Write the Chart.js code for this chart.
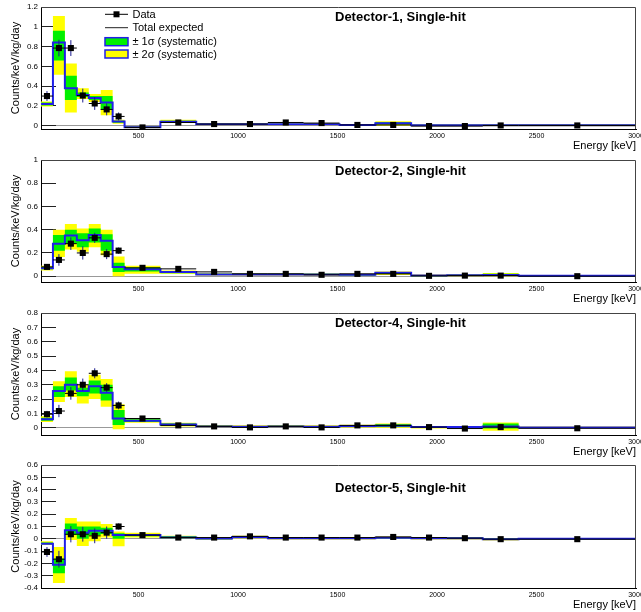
<!DOCTYPE html>
<html><head><meta charset="utf-8">
<script src="https://cdn.jsdelivr.net/npm/chart.js@4.4.0/dist/chart.umd.min.js"></script>
<style>
html,body{margin:0;padding:0;background:#fff;}
#wrap{position:relative;width:641px;height:612px;overflow:hidden;}
.pad{position:absolute;left:0;width:641px;height:153px;}
canvas{display:block;}
</style></head><body>
<div id="wrap">
<div class="pad" style="top:0"><canvas id="c1" width="641" height="153"></canvas></div>
<div class="pad" style="top:153px"><canvas id="c2" width="641" height="153"></canvas></div>
<div class="pad" style="top:306px"><canvas id="c3" width="641" height="153"></canvas></div>
<div class="pad" style="top:459px"><canvas id="c4" width="641" height="153"></canvas></div>
</div>
<script>
// ---- data ----
const binEdges = [10,70,130,190,250,310,370,430,610,790,970,1150,1330,1510,1690,1870,2050,2230,2410,3000];
const xTicks = [500,1000,1500,2000,2500,3000];

const det1Title = 'Detector-1, Single-hit';
const det1YTicks = [0,0.2,0.4,0.6,0.8,1,1.2];
const det1Expected = [0.22,0.84,0.38,0.31,0.28,0.235,0.043,-0.015,0.04,0.015,0.015,0.015,0.015,0.008,0.025,0.005,0.005,0.005,0.005];
const det1Sig1Lo = [0.205,0.66,0.26,0.29,0.26,0.16,0.03,-0.02,0.035,0.01,0.01,0.01,0.01,0.003,0.015,0.0,0.0,0.0,0.0];
const det1Sig1Hi = [0.235,0.96,0.505,0.335,0.30,0.30,0.05,-0.01,0.05,0.02,0.02,0.02,0.02,0.013,0.035,0.01,0.01,0.01,0.01];
const det1Sig2Lo = [0.195,0.515,0.135,0.27,0.24,0.105,0.02,-0.025,0.03,0.005,0.005,0.005,0.005,-0.002,0.0,-0.005,-0.005,-0.005,-0.005];
const det1Sig2Hi = [0.245,1.11,0.63,0.38,0.32,0.36,0.06,-0.005,0.06,0.025,0.025,0.025,0.025,0.018,0.045,0.015,0.015,0.015,0.015];
const det1Data = [0.30,0.785,0.785,0.305,0.225,0.165,0.094,-0.017,0.033,0.017,0.017,0.033,0.027,0.008,0.008,-0.003,-0.003,0.003,0.003];
const det1Err = [0.05,0.084,0.08,0.07,0.065,0.06,0.04,0.008,0.008,0.005,0.005,0.005,0.005,0.004,0.004,0.003,0.003,0.003,0.002];

const det2Title = 'Detector-2, Single-hit';
const det2YTicks = [0,0.2,0.4,0.6,0.8,1];
const det2Expected = [0.069,0.28,0.35,0.31,0.355,0.305,0.08,0.06,0.035,0.015,0.015,0.015,0.015,0.012,0.03,0.005,0.008,0.01,0.003];
const det2Sig1Lo = [0.06,0.22,0.28,0.25,0.29,0.22,0.035,0.04,0.025,0.01,0.01,0.01,0.01,0.007,0.02,0.0,0.003,0.005,0.0];
const det2Sig1Hi = [0.08,0.355,0.40,0.37,0.41,0.36,0.115,0.075,0.045,0.02,0.02,0.02,0.02,0.017,0.035,0.01,0.013,0.02,0.006];
const det2Sig2Lo = [0.05,0.165,0.23,0.21,0.25,0.18,0.0,0.02,0.02,0.005,0.005,0.005,0.005,0.002,0.01,-0.005,-0.002,0.0,-0.003];
const det2Sig2Hi = [0.09,0.40,0.45,0.41,0.45,0.40,0.17,0.09,0.05,0.025,0.025,0.025,0.025,0.022,0.04,0.015,0.018,0.027,0.009];
const det2Data = [0.08,0.14,0.28,0.20,0.33,0.19,0.22,0.072,0.063,0.037,0.02,0.02,0.012,0.02,0.02,0.003,0.005,0.005,0.0];
const det2Err = [0.022,0.05,0.054,0.057,0.043,0.043,0.027,0.01,0.01,0.006,0.005,0.005,0.005,0.005,0.005,0.004,0.004,0.004,0.002];

const det4Title = 'Detector-4, Single-hit';
const det4YTicks = [0,0.1,0.2,0.3,0.4,0.5,0.6,0.7,0.8];
const det4Expected = [0.06,0.256,0.30,0.256,0.29,0.245,0.065,0.05,0.023,0.01,0.008,0.01,0.008,0.012,0.015,0.005,0.005,0.01,0.003];
const det4Sig1Lo = [0.05,0.215,0.26,0.22,0.24,0.19,0.02,0.04,0.015,0.005,0.003,0.005,0.003,0.007,0.005,0.0,0.0,-0.005,0.0];
const det4Sig1Hi = [0.07,0.29,0.35,0.28,0.33,0.30,0.125,0.06,0.03,0.015,0.013,0.015,0.013,0.017,0.025,0.01,0.01,0.03,0.006];
const det4Sig2Lo = [0.04,0.18,0.215,0.17,0.20,0.146,-0.01,0.035,0.01,0.0,-0.002,0.0,-0.002,0.002,0.0,-0.005,-0.003,-0.02,-0.003];
const det4Sig2Hi = [0.08,0.325,0.395,0.30,0.37,0.34,0.165,0.065,0.035,0.02,0.018,0.02,0.018,0.022,0.03,0.01,0.013,0.037,0.009];
const det4Data = [0.095,0.117,0.24,0.30,0.38,0.28,0.156,0.065,0.017,0.01,0.003,0.01,0.003,0.017,0.017,0.005,-0.005,0.005,-0.003];
const det4Err = [0.023,0.043,0.044,0.043,0.035,0.031,0.027,0.008,0.006,0.005,0.005,0.005,0.005,0.005,0.005,0.004,0.004,0.004,0.002];

const det5Title = 'Detector-5, Single-hit';
const det5YTicks = [-0.4,-0.3,-0.2,-0.1,0,0.1,0.2,0.3,0.4,0.5,0.6];
const det5Expected = [-0.04,-0.21,0.07,0.05,0.065,0.066,0.03,0.03,0.01,0.002,0.015,0.005,0.005,0.005,0.008,0.005,0.005,-0.003,0.0];
const det5Sig1Lo = [-0.045,-0.28,0.03,0.0,0.03,0.04,0.0,0.02,0.005,-0.003,0.01,0.0,0.0,0.0,0.003,0.0,0.0,-0.008,-0.003];
const det5Sig1Hi = [-0.03,-0.16,0.125,0.10,0.10,0.09,0.045,0.04,0.02,0.007,0.02,0.01,0.01,0.01,0.013,0.01,0.01,0.002,0.003];
const det5Sig2Lo = [-0.05,-0.36,-0.01,-0.058,-0.02,0.01,-0.06,0.01,0.0,-0.008,0.005,-0.005,-0.005,-0.005,-0.002,-0.005,-0.005,-0.013,-0.006];
const det5Sig2Hi = [-0.02,-0.066,0.17,0.14,0.14,0.12,0.06,0.05,0.025,0.012,0.025,0.015,0.015,0.015,0.018,0.015,0.015,0.007,0.006];
const det5Data = [-0.107,-0.166,0.037,0.037,0.024,0.05,0.10,0.03,0.01,0.01,0.02,0.01,0.01,0.01,0.015,0.01,0.005,-0.003,-0.003];
const det5Err = [0.04,0.068,0.066,0.06,0.06,0.05,0.025,0.01,0.008,0.006,0.005,0.005,0.005,0.005,0.005,0.004,0.004,0.004,0.002];

const legendLabels = ['Data','Total expected','\u00b1 1\u03c3 (systematic)','\u00b1 2\u03c3 (systematic)'];

// ---- helpers ----
const FONT = "'Liberation Sans', Arial, Helvetica, sans-serif";
Chart.defaults.font.family = FONT;
const GREEN = '#00f000', YELLOW = '#ffff00', BLUE = '#1f1fe8';

function stepPts(v){ return binEdges.map((e,i)=>({x:e, y:v[Math.min(i, v.length-1)]})); }
function centerPts(v){ return v.map((y,i)=>({x:(binEdges[i]+binEdges[i+1])/2, y})); }
function xErrPts(v){ const p=[]; v.forEach((y,i)=>{ p.push({x:binEdges[i],y},{x:binEdges[i+1],y},{x:binEdges[i+1],y:null}); }); return p; }
function yErrPts(v,e){ const p=[]; v.forEach((y,i)=>{ const c=(binEdges[i]+binEdges[i+1])/2; p.push({x:c,y:y-e[i]},{x:c,y:y+e[i]},{x:c,y:null}); }); return p; }

const decor = {
  id:'decor',
  afterDraw(chart, args, o){
    const {ctx, chartArea:a} = chart;
    ctx.save();
    ctx.strokeStyle='#444'; ctx.lineWidth=1;
    ctx.beginPath();
    ctx.moveTo(a.left, a.top+0.5); ctx.lineTo(a.right-0.5, a.top+0.5); ctx.lineTo(a.right-0.5, a.bottom);
    ctx.stroke();
    ctx.fillStyle='#000';
    ctx.font = 'bold 13px '+FONT;
    ctx.textAlign='left'; ctx.textBaseline='middle';
    ctx.fillText(o.title, 335, o.titleY);
    if (o.legend){
      const x0=105, x1=128, tx=132.5, rows=[14.3,27.7,41.7,54];
      ctx.font = '11px '+FONT;
      ctx.strokeStyle='#000'; ctx.lineWidth=1;
      ctx.beginPath(); ctx.moveTo(x0, rows[0]); ctx.lineTo(x1, rows[0]); ctx.stroke();
      ctx.fillStyle='#000'; ctx.fillRect(116.5-3, rows[0]-3, 6, 6);
      ctx.strokeStyle='#222'; ctx.lineWidth=1;
      ctx.beginPath(); ctx.moveTo(x0, rows[1]); ctx.lineTo(x1, rows[1]); ctx.stroke();
      [[GREEN,rows[2]],[YELLOW,rows[3]]].forEach(([c,y])=>{
        ctx.fillStyle=c; ctx.fillRect(x0, y-4, x1-x0, 8);
        ctx.strokeStyle=BLUE; ctx.lineWidth=1.5; ctx.strokeRect(x0, y-4, x1-x0, 8);
      });
      ctx.fillStyle='#000';
      legendLabels.forEach((t,i)=>ctx.fillText(t, tx, rows[i]+0.5));
    }
    ctx.restore();
  }
};

function makePanel(id, p){
  const hidden = {borderColor:'rgba(0,0,0,0)', borderWidth:0, pointRadius:0, stepped:true};
  const datasets = [
    {label:'Data', data:centerPts(p.data), showLine:false, pointStyle:'rect', pointRadius:4.3, pointBackgroundColor:'#000', pointBorderColor:'#000', pointBorderWidth:0},
    {label:'xerr', data:xErrPts(p.data), borderColor:'#000', borderWidth:1, pointRadius:0, spanGaps:false},
    {label:'yerr', data:yErrPts(p.data,p.err), borderColor:'#1c1c90', borderWidth:1, pointRadius:0, spanGaps:false},
    {label:'Total expected', data:stepPts(p.expected), stepped:true, borderColor:BLUE, borderWidth:2, pointRadius:0},
    Object.assign({label:'1s hi', data:stepPts(p.s1hi), fill:'+1', backgroundColor:GREEN}, hidden),
    Object.assign({label:'1s lo', data:stepPts(p.s1lo), fill:false}, hidden),
    Object.assign({label:'2s hi', data:stepPts(p.s2hi), fill:'+1', backgroundColor:YELLOW}, hidden),
    Object.assign({label:'2s lo', data:stepPts(p.s2lo), fill:false}, hidden)
  ];
  new Chart(document.getElementById(id), {
    type:'line',
    data:{datasets},
    plugins:[decor],
    options:{
      responsive:false, animation:false, events:[],
      layout:{padding:{left:0,right:5,top:p.padTop,bottom:0}, autoPadding:false},
      plugins:{legend:{display:false}, tooltip:{enabled:false},
        decor:{title:p.title, titleY:p.titleY, legend:p.legend}},
      scales:{
        x:{type:'linear', min:10, max:3000,
          afterBuildTicks:s=>{ s.ticks = xTicks.map(v=>({value:v})); },
          afterFit:s=>{ s.height = 24; s.paddingLeft = 0; s.paddingRight = 0; s.paddingTop = 0; s.paddingBottom = 0; },
          grid:{display:true, drawOnChartArea:false, drawTicks:false},
          border:{display:true, color:'#000', width:1},
          ticks:{padding:3, color:'#000', font:{size:7}, maxRotation:0, autoSkip:false, callback:v=>String(v)},
          title:{display:true, text:'Energy [keV]', align:'end', color:'#000', font:{size:11}, padding:{top:0,bottom:0}}
        },
        y:{type:'linear', min:p.ymin, max:p.ymax,
          afterBuildTicks:s=>{ s.ticks = p.yTicks.map(v=>({value:v})); },
          afterFit:s=>{ s.width = 41; s.paddingTop = 0; s.paddingBottom = 0; s.paddingLeft = 0; s.paddingRight = 0; },
          grid:{display:true, drawOnChartArea:true, drawTicks:true, tickLength:-15,
            color:c=> (c.tick && Math.abs(c.tick.value)<1e-9) ? '#999' : 'rgba(0,0,0,0)',
            tickColor:'#222', tickWidth:1},
          border:{display:true, color:'#000', width:1},
          ticks:{padding:18, color:'#000', font:{size:8}, autoSkip:false, callback:v=>String(Math.round(v*10)/10)},
          title:{display:true, text:'Counts/keV/kg/day', color:'#000', font:{size:11}, padding:{top:9,bottom:0}}
        }
      }
    }
  });
}

makePanel('c1',{title:det1Title, titleY:17.3, legend:true, padTop:7, ymin:-0.033, ymax:1.2, yTicks:det1YTicks,
  expected:det1Expected, s1lo:det1Sig1Lo, s1hi:det1Sig1Hi, s2lo:det1Sig2Lo, s2hi:det1Sig2Hi, data:det1Data, err:det1Err});
makePanel('c2',{title:det2Title, titleY:18.7, legend:false, padTop:7, ymin:-0.05, ymax:1, yTicks:det2YTicks,
  expected:det2Expected, s1lo:det2Sig1Lo, s1hi:det2Sig1Hi, s2lo:det2Sig2Lo, s2hi:det2Sig2Hi, data:det2Data, err:det2Err});
makePanel('c3',{title:det4Title, titleY:17.3, legend:false, padTop:7, ymin:-0.05, ymax:0.8, yTicks:det4YTicks,
  expected:det4Expected, s1lo:det4Sig1Lo, s1hi:det4Sig1Hi, s2lo:det4Sig2Lo, s2hi:det4Sig2Hi, data:det4Data, err:det4Err});
makePanel('c4',{title:det5Title, titleY:29.3, legend:false, padTop:6, ymin:-0.4, ymax:0.6, yTicks:det5YTicks,
  expected:det5Expected, s1lo:det5Sig1Lo, s1hi:det5Sig1Hi, s2lo:det5Sig2Lo, s2hi:det5Sig2Hi, data:det5Data, err:det5Err});
</script>
</body></html>
